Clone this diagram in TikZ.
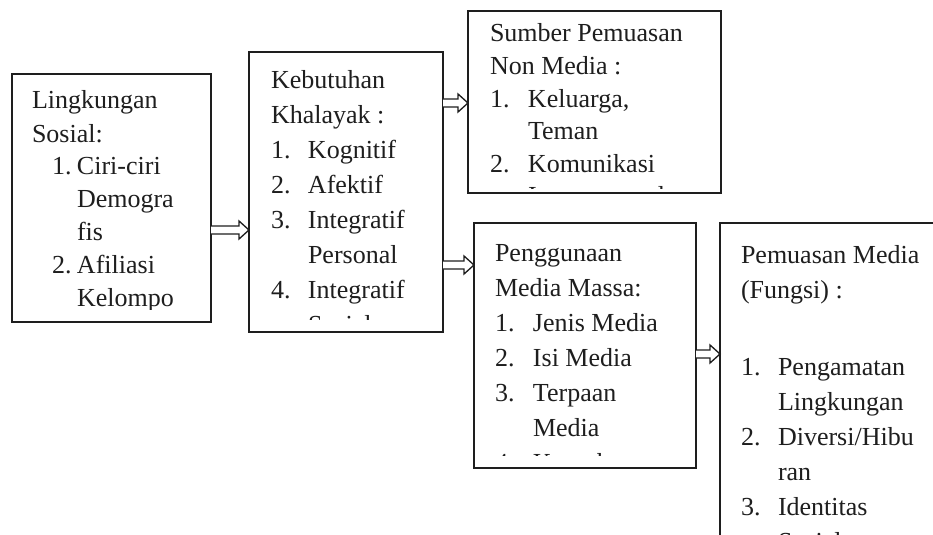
\documentclass[tikz,border=0pt]{standalone}
\usepackage{fontspec}
\setmainfont{Liberation Serif}
\usetikzlibrary{calc}
\definecolor{ink}{HTML}{1E1E1E}
\newcommand{\boxtext}[2]{\parbox[t]{240pt}{\fontsize{19.5pt}{#1}\selectfont #2}}
\newcommand{\num}[2]{\makebox[#1][l]{#2}}
\begin{document}
\begin{tikzpicture}[x=0.75pt,y=-0.75pt,
  box/.style={draw=ink,line width=1.1pt,rectangle,anchor=north west,inner sep=0pt,outer sep=0pt},
  txt/.style={anchor=base west,inner sep=0pt,outer sep=0pt,text=ink},
  blockarrow/.style={draw=ink,line width=1pt,fill=white,
    to path={($(\tikztostart)+(0,-4)$) -- ($(\tikztotarget)+(-10,-4)$) -- ($(\tikztotarget)+(-10,-9)$) -- (\tikztotarget) -- ($(\tikztotarget)+(-10,9)$) -- ($(\tikztotarget)+(-10,4)$) -- ($(\tikztostart)+(0,4)$)}}]
\clip (0,0) rectangle (933,535);
\fill[white] (0,0) rectangle (933,535);

% boxes
\node[box,minimum width=149.25pt,minimum height=186pt] (b1) at (12,74) {};
\node[box,minimum width=145.5pt,minimum height=210pt] (b2) at (249,52) {};
\node[box,minimum width=189.75pt,minimum height=136.5pt] (b3) at (468,11) {};
\node[box,minimum width=166.5pt,minimum height=183.75pt] (b4) at (474,223) {};
\node[box,minimum width=165pt,minimum height=241.5pt] (b5) at (720,223) {};

% texts
\begin{scope}
\clip (12,74) rectangle (211,309);
\node[txt] (t1) at (32,109) {\boxtext{24.75pt}{Lingkungan\\
Sosial:\\
\hspace*{15pt}\num{18.75pt}{1.}Ciri-ciri\\
\hspace*{33.75pt}Demogra\\
\hspace*{33.75pt}fis\\
\hspace*{15pt}\num{18.75pt}{2.}Afiliasi\\
\hspace*{33.75pt}Kelompo\\
\hspace*{33.75pt}k}};
\end{scope}

\begin{scope}
\clip (249,52) rectangle (443,319);
\node[txt] (t2) at (271,89) {\boxtext{26.25pt}{Kebutuhan\\
Khalayak :\\
\num{27.75pt}{1.}Kognitif\\
\num{27.75pt}{2.}Afektif\\
\num{27.75pt}{3.}Integratif\\
\hspace*{27.75pt}Personal\\
\num{27.75pt}{4.}Integratif\\
\hspace*{27.75pt}Sosial}};
\end{scope}

\begin{scope}
\clip (468,11) rectangle (721,189);
\node[txt] (t3) at (490,42) {\boxtext{24.4pt}{Sumber Pemuasan\\
Non Media :\\
\num{28.5pt}{1.}Keluarga,\\
\hspace*{28.5pt}Teman\\
\num{28.5pt}{2.}Komunikasi\\
\hspace*{28.5pt}Interpersonal}};
\end{scope}

\begin{scope}
\clip (474,223) rectangle (696,455);
\node[txt] (t4) at (495,262) {\boxtext{26.25pt}{Penggunaan\\
Media Massa:\\
\num{28.5pt}{1.}Jenis Media\\
\num{28.5pt}{2.}Isi Media\\
\num{28.5pt}{3.}Terpaan\\
\hspace*{28.5pt}Media\\
\num{28.5pt}{4.}Konteks}};
\end{scope}

\node[txt] (t5) at (741,263) {\boxtext{26.25pt}{Pemuasan Media\\
(Fungsi) :\\[6pt]
\mbox{}\\
\num{27.75pt}{1.}Pengamatan\\
\hspace*{27.75pt}Lingkungan\\
\num{27.75pt}{2.}Diversi/Hibu\\
\hspace*{27.75pt}ran\\
\num{27.75pt}{3.}Identitas\\
\hspace*{27.75pt}Sosial}};

% arrows
\coordinate (a1s) at (b1.east |- 0,230);
\coordinate (a1e) at (b2.west |- 0,230);
\coordinate (a2s) at (b2.east |- 0,103);
\coordinate (a2e) at (b3.west |- 0,103);
\coordinate (a3s) at (b2.east |- 0,265);
\coordinate (a3e) at (b4.west |- 0,265);
\coordinate (a4s) at (b4.east |- 0,354);
\coordinate (a4e) at (b5.west |- 0,354);
\draw[blockarrow] (a1s) to (a1e);
\draw[blockarrow] (a2s) to (a2e);
\draw[blockarrow] (a3s) to (a3e);
\draw[blockarrow] (a4s) to (a4e);
\end{tikzpicture}
\end{document}
